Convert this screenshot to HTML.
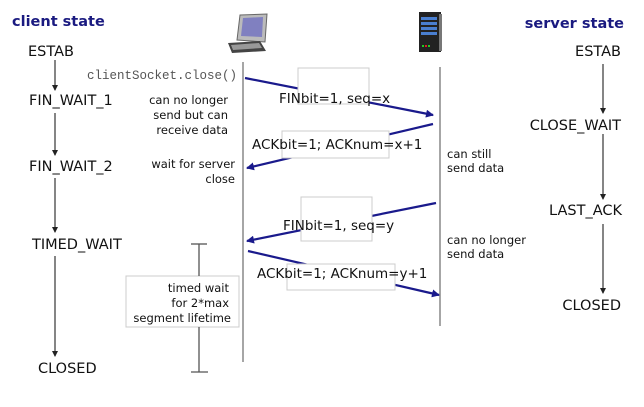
<!DOCTYPE html>
<html><head><style>
html,body{margin:0;padding:0;background:#fff;}
svg{display:block;}
text{font-family:"DejaVu Sans","Liberation Sans",sans-serif;}
.st{font-size:14.5px;fill:#111;}
.nt{font-size:11.5px;fill:#111;}
.msg{font-size:13.5px;fill:#111;}
</style></head><body>
<svg width="644" height="407" viewBox="0 0 644 407" xmlns="http://www.w3.org/2000/svg">
<defs>
<marker id="ab" markerWidth="8" markerHeight="8" refX="7" refY="4" orient="auto" markerUnits="userSpaceOnUse"><path d="M0,0 L8,4 L0,8 z" fill="#1a1a8c"/></marker>
<marker id="ak" markerWidth="6" markerHeight="6" refX="5" refY="3" orient="auto" markerUnits="userSpaceOnUse"><path d="M0,0 L6,3 L0,6 z" fill="#222"/></marker>
</defs>
<text x="12" y="26" font-size="14.5" font-weight="bold" fill="#1a1a80">client state</text>
<text x="624" y="28" font-size="14.5" font-weight="bold" fill="#1a1a80" text-anchor="end">server state</text>

<g class="st">
<text x="28" y="56">ESTAB</text>
<text x="29" y="105">FIN_WAIT_1</text>
<text x="29" y="171">FIN_WAIT_2</text>
<text x="32" y="249">TIMED_WAIT</text>
<text x="38" y="373">CLOSED</text>
</g>
<g class="st" text-anchor="end">
<text x="621" y="56">ESTAB</text>
<text x="621" y="130">CLOSE_WAIT</text>
<text x="622" y="215">LAST_ACK</text>
<text x="621" y="310">CLOSED</text>
</g>
<g stroke="#333" stroke-width="1.2">
<line x1="55" y1="60" x2="55" y2="90" marker-end="url(#ak)"/>
<line x1="55" y1="113" x2="55" y2="155" marker-end="url(#ak)"/>
<line x1="55" y1="178" x2="55" y2="232" marker-end="url(#ak)"/>
<line x1="55" y1="256" x2="55" y2="356" marker-end="url(#ak)"/>
<line x1="603" y1="64" x2="603" y2="113" marker-end="url(#ak)"/>
<line x1="603" y1="134" x2="603" y2="199" marker-end="url(#ak)"/>
<line x1="603" y1="224" x2="603" y2="293" marker-end="url(#ak)"/>
</g>

<!-- computer icon -->
<g>
<polygon points="240,15 267,14 265,42 237,40" fill="#bbb" stroke="#666"/>
<polygon points="243,18 263,17 262,37 241,36" fill="#8080c0"/>
<polygon points="228,43 260,41 266,51 232,53" fill="#444"/>
<polygon points="231,45 259,43 262,48 233,50" fill="#999"/>
</g>
<!-- server icon -->
<g>
<rect x="419" y="12" width="22" height="40" fill="#222"/>
<rect x="421" y="17" width="16" height="3" fill="#4a7fd0"/>
<rect x="421" y="22" width="16" height="3" fill="#4a7fd0"/>
<rect x="421" y="27" width="16" height="3" fill="#4a7fd0"/>
<rect x="421" y="32" width="16" height="3" fill="#4a7fd0"/>
<rect x="422" y="45" width="2" height="2" fill="#2c2"/>
<rect x="425" y="45" width="2" height="2" fill="#d22"/>
<rect x="428" y="45" width="2" height="2" fill="#2c2"/>
<rect x="439" y="14" width="3" height="37" fill="#777"/>
</g>

<line x1="243" y1="62" x2="243" y2="362" stroke="#888" stroke-width="1.5"/>
<line x1="440" y1="67" x2="440" y2="326" stroke="#888" stroke-width="1.5"/>

<text x="237" y="79" text-anchor="end" font-size="12.5" fill="#555" style="font-family:'Liberation Mono',monospace">clientSocket.close()</text>

<g stroke="#1a1a8c" stroke-width="2.2" fill="none">
<line x1="245" y1="78" x2="433" y2="115" marker-end="url(#ab)"/>
<line x1="433" y1="124" x2="247" y2="168" marker-end="url(#ab)"/>
<line x1="436" y1="203" x2="247" y2="241" marker-end="url(#ab)"/>
<line x1="248" y1="251" x2="439" y2="295" marker-end="url(#ab)"/>
</g>
<g fill="#fff" stroke="#ccc" stroke-width="1">
<rect x="298" y="68" width="71" height="36"/>
<rect x="282" y="131" width="107" height="27"/>
<rect x="301" y="197" width="71" height="44"/>
<rect x="287" y="264" width="108" height="26"/>
<rect x="126" y="276" width="113" height="51"/>
</g>
<g class="msg">
<text x="279" y="103">FINbit=1, seq=x</text>
<text x="252" y="149">ACKbit=1; ACKnum=x+1</text>
<text x="283" y="230">FINbit=1, seq=y</text>
<text x="257" y="278">ACKbit=1; ACKnum=y+1</text>
</g>

<g class="nt" text-anchor="end">
<text x="228" y="104">can no longer</text>
<text x="228" y="119">send but can</text>
<text x="228" y="134">receive data</text>
<text x="235" y="168">wait for server</text>
<text x="235" y="183">close</text>
<text x="229" y="292">timed wait</text>
<text x="229" y="307">for 2*max</text>
<text x="231" y="322">segment lifetime</text>
</g>
<g class="nt">
<text x="447" y="158">can still</text>
<text x="447" y="172">send data</text>
<text x="447" y="244">can no longer</text>
<text x="447" y="258">send data</text>
</g>

<g stroke="#555" stroke-width="1.3">
<line x1="199" y1="244" x2="199" y2="276"/>
<line x1="199" y1="327" x2="199" y2="372"/>
<line x1="191" y1="244" x2="207" y2="244"/>
<line x1="191" y1="372" x2="208" y2="372"/>
</g>
</svg>
</body></html>
